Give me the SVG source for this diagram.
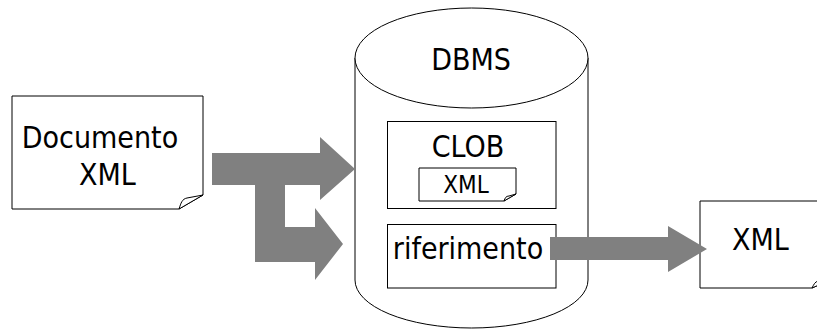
<svg xmlns="http://www.w3.org/2000/svg" width="817" height="329" viewBox="0 0 817 329">
  <style>
    .outline { fill: #ffffff; stroke: #000000; stroke-width: 1; }
    .fold { fill: #ffffff; stroke: #000000; stroke-width: 1; stroke-linejoin: round; }
    .label { font-family: "DejaVu Sans Condensed", "DejaVu Sans", sans-serif; font-stretch: condensed; fill: #000000; }
    .big { font-size: 30px; }
    .small { font-size: 24px; }
    .flow { fill: #808080; stroke: none; }
  </style>

  <rect width="817" height="329" fill="#ffffff"/>

  <!-- source document -->
  <g id="documento-xml">
    <path class="outline" d="M12,96 H203 V195 L179,209 H12 Z"/>
    <path class="fold" d="M179,209 C181,203 182,199 187,198 L203,195 Z"/>
    <text class="label big" x="100" y="148" text-anchor="middle">Documento</text>
    <text class="label big" x="107.5" y="185" text-anchor="middle">XML</text>
  </g>

  <!-- database cylinder with its two storage areas -->
  <g id="dbms">
    <path class="outline" d="M355,58 V280 A116.5,48 0 0 0 588,280 V58"/>
    <ellipse class="outline" cx="471.5" cy="58" rx="116.5" ry="50"/>
    <text class="label big" x="471" y="70" text-anchor="middle">DBMS</text>
  </g>

  <g id="clob">
    <rect class="outline" x="387.5" y="121.5" width="168.5" height="87"/>
    <text class="label big" x="468" y="157" text-anchor="middle">CLOB</text>
  </g>

  <g id="clob-xml">
    <path class="outline" d="M419,168 H516 V194 L504,201 H419 Z"/>
    <path class="fold" d="M504,201 C505,198 506,196 509,196 L516,194 Z"/>
    <text class="label small" x="466" y="193" text-anchor="middle">XML</text>
  </g>

  <g id="riferimento">
    <rect class="outline" x="387.5" y="224.5" width="168.5" height="63.5"/>
    <text class="label big" x="468" y="259" text-anchor="middle">riferimento</text>
  </g>

  <!-- external document -->
  <g id="xml-esterno">
    <path class="outline" d="M700,201 H830 V280 L812,288 H700 Z"/>
    <path class="fold" d="M812,288 C814,284 815,282 818,281 L830,280 Z"/>
    <text class="label big" x="760.5" y="250" text-anchor="middle">XML</text>
  </g>

  <!-- block arrows -->
  <g id="connectors">
    <polygon class="flow" points="212,153 320,153 320,137 355,169 320,200 320,185 285,185 285,227 315,227 315,208 343,244 315,280 315,262 255,262 255,185 212,185"/>
    <polygon class="flow" points="550,237 668,237 668,226 707,249 668,272 668,260 550,260"/>
  </g>
</svg>
